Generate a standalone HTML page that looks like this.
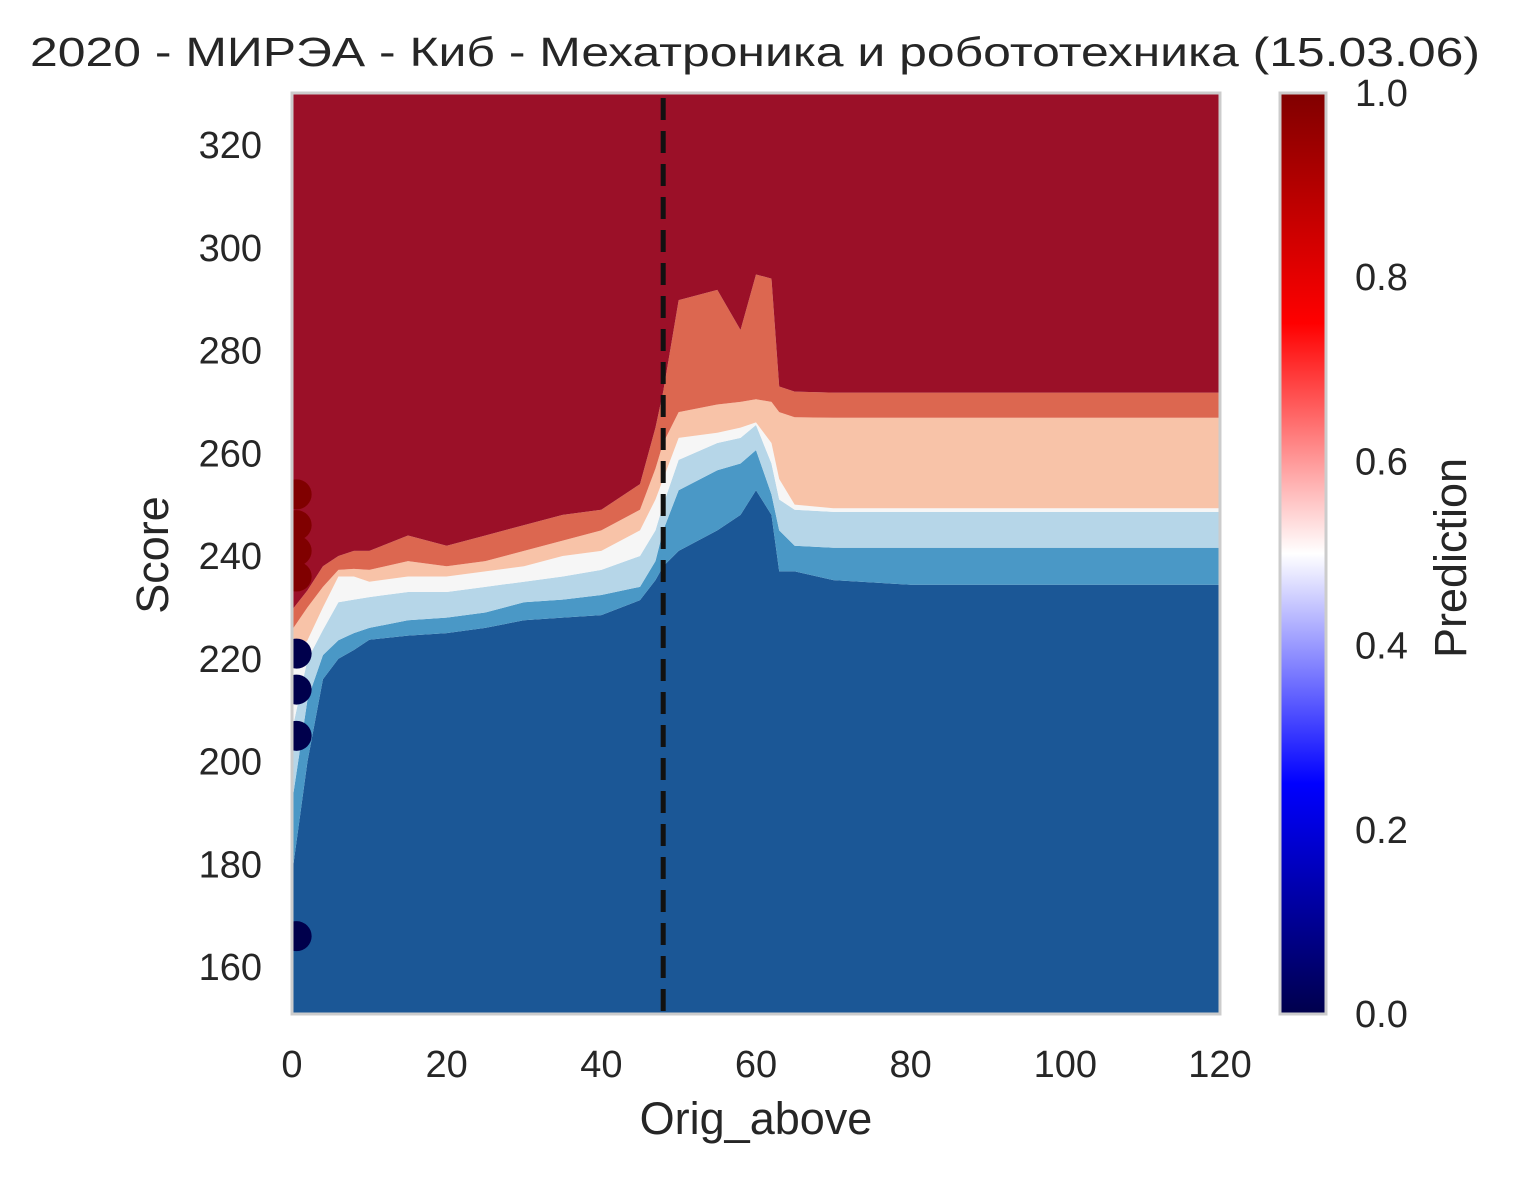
<!DOCTYPE html>
<html><head><meta charset="utf-8"><style>
body{margin:0;background:#fff;}
svg text{font-family:"Liberation Sans","DejaVu Sans",sans-serif;fill:#262626;}
</style></head><body>
<svg id="chart" width="1513" height="1174" xmlns="http://www.w3.org/2000/svg">
<defs>
<clipPath id="pc"><rect x="292" y="93" width="928" height="921"/></clipPath>
<linearGradient id="cbg" x1="0" y1="1" x2="0" y2="0">
<stop offset="0" stop-color="#00004c"/><stop offset="0.25" stop-color="#0000ff"/><stop offset="0.5" stop-color="#ffffff"/><stop offset="0.75" stop-color="#ff0000"/><stop offset="1" stop-color="#800000"/>
</linearGradient>
</defs>
<text x="755" y="66" font-size="41" text-anchor="middle" textLength="1450" lengthAdjust="spacingAndGlyphs">2020 - МИРЭА - Киб - Мехатроника и робототехника (15.03.06)</text>
<g id="bands" clip-path="url(#pc)"></g>
<g id="dots" clip-path="url(#pc)"></g>
<line id="cutoff" stroke="#111" stroke-width="5" stroke-dasharray="22,11"/>
<rect x="292" y="93" width="928" height="921" fill="none" stroke="#cccccc" stroke-width="3"/>
<g id="xt"></g>
<g id="yt"></g>
<text x="756" y="1134" font-size="45" text-anchor="middle">Orig_above</text>
<text transform="translate(168,555) rotate(-90)" font-size="45" text-anchor="middle">Score</text>
<rect x="1280" y="93" width="46" height="921" fill="url(#cbg)" stroke="#cccccc" stroke-width="3"/>
<g id="ct"></g>
<text transform="translate(1466,558) rotate(-90)" font-size="45" text-anchor="middle">Prediction</text>
</svg>
<script>
const xs=[0,2,4,6,8,10,15,20,25,30,35,40,45,47,48,50,55,58,60,62,63,65,70,80,90,100,110,120];
const b1=[178,200,216,220,221.7,223.7,224.5,225,226,227.5,228,228.5,231.4,235.3,238,241,245,248,252.8,248,237,237,235.3,234.4,234.4,234.4,234.4,234.4];
const b2=[192,212,220.7,223.6,225,226,227.5,228,229,231,231.5,232.4,234,239,245,252.8,256.7,258,260.6,252,245,242,241.6,241.6,241.6,241.6,241.6,241.6];
const b3=[206,219.8,225.6,231,231.5,232,233,233,234,235,236,237.3,240,245,250,258.7,262,263,265.5,258,251,249,248.6,248.6,248.6,248.6,248.6,248.6];
const b4=[219.8,223.6,230,236,236,235,236,236,237,238,240,241,245,251,255,263,264,265,266,262,255,250,249.3,249.3,249.3,249.3,249.3,249.3];
const b5=[225.6,230,234,237.3,237.5,237.3,239,238,239,241,243,245,249,257,262,268,269.5,270,270.5,270,268,267,266.9,266.9,266.9,266.9,266.9,266.9];
const b6=[229.5,233.3,238,240,241,241,244,242,244,246,248,249,254,265,272,289.8,291.8,284,294.8,294,273,272,271.8,271.8,271.8,271.8,271.8,271.8];
const bandColors=["#1b5796","#4a98c6","#b6d6e8","#f6f6f6","#f8c3a8","#dc6750","#9b1028"];
const ptScores=[252,246,241,236,221,214,205,166];
const ptPred=[1,1,1,1,0,0,0,0];
const ptX=0.6;
const cutoffX=48;
const xTicks=[0,20,40,60,80,100,120];
const yTicks=[160,180,200,220,240,260,280,300,320];
const cTicks=[0,0.2,0.4,0.6,0.8,1.0];
const X=v=>292+v*928/120;
const Y=s=>967-(s-160)*5.1375;
const NS="http://www.w3.org/2000/svg";
const bounds=[xs.map(()=>140),b1,b2,b3,b4,b5,b6,xs.map(()=>340)];
const g=document.getElementById('bands');
for(let k=0;k<7;k++){
  const lo=bounds[k],hi=bounds[k+1];
  let pts=xs.map((x,i)=>X(x)+','+Y(hi[i]));
  for(let i=xs.length-1;i>=0;i--)pts.push(X(xs[i])+','+Y(lo[i]));
  const p=document.createElementNS(NS,'polygon');
  p.setAttribute('points',pts.join(' '));p.setAttribute('fill',bandColors[k]);
  
  
  g.appendChild(p);
}
const d=document.getElementById('dots');
ptScores.forEach((s,i)=>{
  const c=document.createElementNS(NS,'circle');
  c.setAttribute('cx',X(ptX));c.setAttribute('cy',Y(s));c.setAttribute('r',15);
  c.setAttribute('fill',ptPred[i]?'#800000':'#00004c');
  
  
  d.appendChild(c);
});
const cl=document.getElementById('cutoff');
cl.setAttribute('x1',X(cutoffX));cl.setAttribute('x2',X(cutoffX));cl.setAttribute('y1',98);cl.setAttribute('y2',1014);
function txt(parent,x,y,s,anchor,size){
  const t=document.createElementNS(NS,'text');
  t.setAttribute('x',x);t.setAttribute('y',y);t.setAttribute('font-size',size);t.setAttribute('text-anchor',anchor);
  t.textContent=s;
  
  
  parent.appendChild(t);
}
const xt=document.getElementById('xt');
xTicks.forEach(v=>txt(xt,X(v),1077,String(v),'middle',38));
const yt=document.getElementById('yt');
yTicks.forEach(v=>txt(yt,262,Y(v)+13,String(v),'end',38));
const ct=document.getElementById('ct');
cTicks.forEach(v=>txt(ct,1355,1014-v*921+13,v.toFixed(1),'start',38));
</script>
</body></html>
